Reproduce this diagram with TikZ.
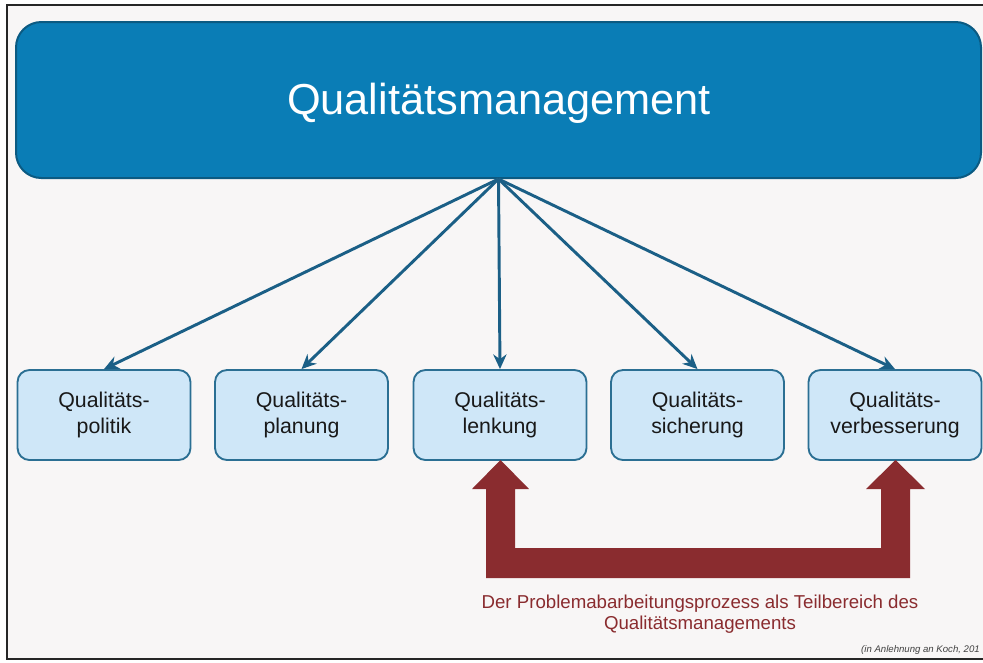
\documentclass[tikz,border=0pt]{standalone}
\usepackage{fontspec}
\setmainfont{Liberation Sans}
\usetikzlibrary{arrows.meta}
\definecolor{topfill}{HTML}{0A7DB6}
\definecolor{topedge}{HTML}{0B5A82}
\definecolor{subfill}{HTML}{CFE7F8}
\definecolor{subedge}{HTML}{2B6F93}
\definecolor{linkblue}{HTML}{1B5F86}
\definecolor{procred}{HTML}{8A2C2F}
\definecolor{paper}{HTML}{F8F6F6}
\tikzset{
  headbox/.style={draw=topedge, line width=1.5pt, fill=topfill, rounded corners=19pt,
    minimum width=723.75pt, minimum height=117pt, inner sep=0pt},
  headtext/.style={text=white, inner sep=0pt, font=\fontsize{32.5}{38}\selectfont},
  subbox/.style={draw=subedge, line width=1.4pt, fill=subfill, rounded corners=9pt,
    minimum width=129.75pt, minimum height=67.5pt, inner sep=0pt, align=center,
    text=black!90, font=\fontsize{16}{19}\selectfont},
  link/.style={draw=linkblue, line width=2.2pt, -{Stealth[length=11pt,width=10pt]}},
  caption/.style={text=procred, align=center, font=\fontsize{14}{16}\selectfont},
  source/.style={anchor=east, inner sep=0pt, font=\fontsize{7.2}{8}\selectfont\itshape, text=black!75}
}
\begin{document}
\begin{tikzpicture}[x=0.75pt, y=-0.75pt]
  % page and frame
  \useasboundingbox (0,0) rectangle (983,662);
  \fill[white] (0,0) rectangle (983,662);
  \fill[paper] (7,5) rectangle (983,659);
  \draw[black!85, line width=1.6pt] (983,5) -- (7,5) -- (7,659) -- (983,659);

  % main box with its title
  \node[headbox] (qm) at (498.5,100) {};
  \node[headtext] (qmtitle) at (499,103) {Qualitätsmanagement};

  % sub-areas
  \node[subbox] (pol) at (104,415)   {Qualitäts-\\politik};
  \node[subbox] (pla) at (301.5,415) {Qualitäts-\\planung};
  \node[subbox] (len) at (500,415)   {Qualitäts-\\lenkung};
  \node[subbox] (sic) at (697.5,415) {Qualitäts-\\sicherung};
  \node[subbox] (ver) at (895,415)   {Qualitäts-\\verbesserung};

  % links from the main box
  \foreach \t in {pol,pla,len,sic,ver}
    \draw[link] (qm.south) -- (\t.north);

  % process arrow joining Lenkung and Verbesserung
  \fill[procred]
    (486,578) -- (486,489) -- (472,489) -- (500.5,460) -- (529,489) -- (515,489)
    -- (515,548) -- (881,548) -- (881,489) -- (866,489) -- (895.5,460)
    -- (925,489) -- (910,489) -- (910,578) -- cycle;

  \node[caption] (cap) at (700,614)
    {Der Problemabarbeitungsprozess als Teilbereich des\\Qualitätsmanagements};

  \node[source] (src) at (980,650) {(in Anlehnung an Koch, 201};
\end{tikzpicture}
\end{document}
